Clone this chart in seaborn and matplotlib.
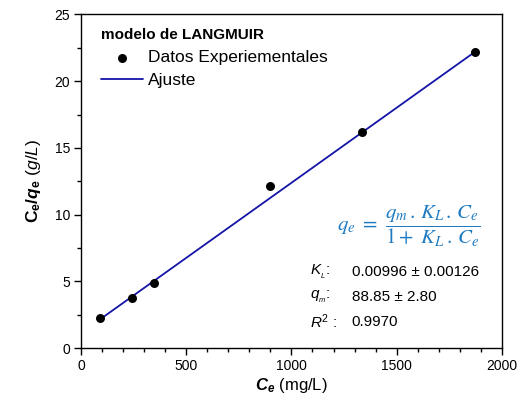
import numpy as np
import pandas as pd
import matplotlib
matplotlib.use("Agg")
import matplotlib.pyplot as plt
import seaborn as sns
from matplotlib.ticker import MultipleLocator

# Experimental isotherm data (linearised Langmuir form)
ce = [90, 244, 347, 898, 1335, 1870]          # C_e (mg/L)
ce_qe = [2.23, 3.75, 4.86, 12.18, 16.2, 22.2]  # C_e/q_e (g/L)

# Fitted parameters
kl = 0.00996
kl_err = 0.00126
qm = 88.85
qm_err = 2.80
r2 = 0.9970

sns.set_theme(style="ticks")
plt.rcParams["font.family"] = ["Liberation Sans", "DejaVu Sans"]
plt.rcParams["text.color"] = "black"
plt.rcParams["axes.labelcolor"] = "black"
plt.rcParams["mathtext.fontset"] = "custom"
plt.rcParams["mathtext.rm"] = "Liberation Sans"
plt.rcParams["mathtext.it"] = "Liberation Sans:italic"
plt.rcParams["mathtext.bf"] = "Liberation Sans:bold"
plt.rcParams["mathtext.bfit"] = "Liberation Sans:bold:italic"

fig = plt.figure(figsize=(5.25, 4.08), dpi=100)
ax = fig.add_axes([0.1543, 0.147, 0.8017, 0.8175])

df = pd.DataFrame({"ce": ce, "y": ce_qe})
fit_x = np.array([ce[0], ce[-1]])
fit = pd.DataFrame({"ce": fit_x, "y": 1 / (qm * kl) + fit_x / qm})

sns.lineplot(data=fit, x="ce", y="y", ax=ax, color="#1414A8", lw=1.3,
             label="Ajuste")
sns.scatterplot(data=df, x="ce", y="y", ax=ax, color="black", s=42,
                edgecolor="black", linewidth=0, label="Datos Experiementales",
                zorder=3)

ax.set_xlim(0, 2000)
ax.set_ylim(0, 25)
ax.xaxis.set_major_locator(MultipleLocator(500))
ax.xaxis.set_minor_locator(MultipleLocator(100))
ax.yaxis.set_major_locator(MultipleLocator(5))
ax.yaxis.set_minor_locator(MultipleLocator(2.5))
ax.tick_params(which="major", direction="out", length=5, width=1,
               labelsize=10, colors="black", pad=3)
ax.tick_params(which="minor", direction="out", length=3, width=1,
               colors="black")
for s in ax.spines.values():
    s.set_linewidth(1)
    s.set_color("black")

ax.set_xlabel(r"$\mathbfit{C}_{\mathbfit{e}}$ (mg/L)", fontsize=12,
              labelpad=2)
ax.set_ylabel(r"$\mathbf{C}_{\mathbf{e}}\mathbf{/}\mathbfit{q}_{\mathbf{e}}$ $\mathit{(g/L)}$",
              fontsize=12.5, labelpad=8)

# Reorder legend: data first, fit second
h, l = ax.get_legend_handles_labels()
leg = ax.legend([h[1], h[0]], [l[1], l[0]], loc="upper left",
                frameon=False, fontsize=12.5, title="modelo de LANGMUIR",
                alignment="left", handlelength=2.4, handletextpad=0.3,
                labelspacing=0.45, borderaxespad=0.5,
                bbox_to_anchor=(0.01, 1.005))
leg.get_title().set_fontweight("bold")
leg.get_title().set_fontsize(11)
leg.get_title().set_color("black")
for t in leg.get_texts():
    t.set_color("black")

# Model equation
ax.text(0.95, 0.365,
        r"$q_e\ =\ \dfrac{q_m\,.\,K_L\,.\,C_e}{1 +\ K_L\,.\,C_e}$",
        transform=ax.transAxes, ha="right", va="center", fontsize=15,
        color="#1F7BC1", math_fontfamily="stix")

# Fit parameters
fs = 11
ax.text(0.543, 0.228, r"$K_{_L}$:", transform=ax.transAxes, fontsize=fs,
        va="center")
ax.text(0.643, 0.228, f"{kl:.5f} ± {kl_err:.5f}", transform=ax.transAxes,
        fontsize=fs, va="center")
ax.text(0.543, 0.153, r"$q_{_m}$:", transform=ax.transAxes, fontsize=fs,
        va="center")
ax.text(0.643, 0.153, f"{qm:.2f} ± {qm_err:.2f}", transform=ax.transAxes,
        fontsize=fs, va="center")
ax.text(0.543, 0.078, r"$R^2$ :", transform=ax.transAxes, fontsize=fs,
        va="center")
ax.text(0.643, 0.078, f"{r2:.4f}", transform=ax.transAxes, fontsize=fs,
        va="center")

fig.savefig("out.png", dpi=100)
